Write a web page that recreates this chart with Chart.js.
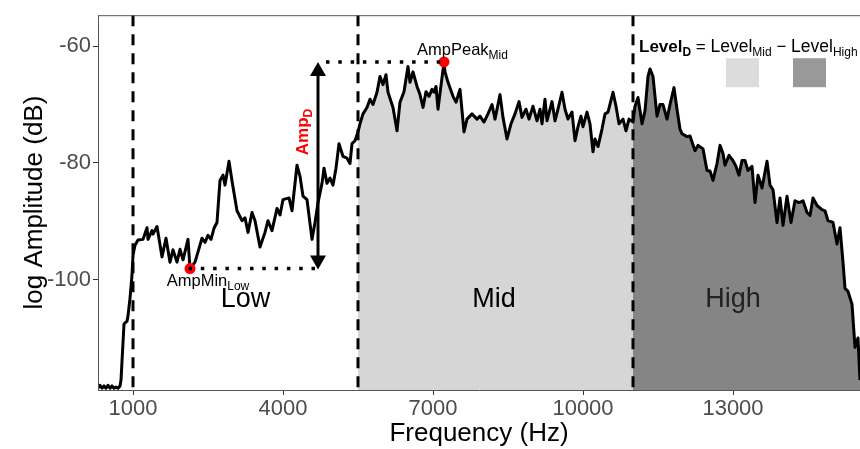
<!DOCTYPE html>
<html>
<head>
<meta charset="utf-8">
<style>
  html, body { margin: 0; padding: 0; background: #fff; }
  #wrap { width: 860px; height: 449px; }
</style>
<script src="https://cdn.jsdelivr.net/npm/chart.js@4.4.1/dist/chart.umd.min.js"></script>
</head>
<body>
<div id="wrap"><canvas id="spectrum" width="860" height="449"></canvas></div>
<script>
// Spectrum: frequency (Hz) and log amplitude (dB)
const freqHz = [
  300, 340, 380, 420, 460, 500, 540, 580, 620, 660, 700, 740, 760, 820, 880, 900, 940, 980,
  1000, 1040, 1100, 1200, 1280, 1300, 1380, 1400, 1480, 1580, 1660, 1740, 1800, 1880, 1940, 2000,
  2100, 2140, 2240, 2380, 2440, 2500, 2560, 2620, 2680, 2740, 2800, 2840, 2920, 2980, 3080, 3180,
  3240, 3300, 3380, 3440, 3540, 3640, 3700, 3780, 3880, 3940, 4000, 4120, 4180, 4280, 4340, 4400,
  4480, 4580, 4640, 4700, 4780, 4820, 4880, 4940, 5000, 5060, 5120, 5200, 5280, 5340, 5380, 5440,
  5500, 5540, 5600, 5680, 5740, 5800, 5880, 5940, 6000, 6060, 6100, 6200, 6280, 6340, 6420, 6500,
  6540, 6600, 6680, 6740, 6800, 6860, 6920, 6980, 7020, 7060, 7100, 7220, 7240, 7300, 7400, 7460,
  7540, 7620, 7680, 7780, 7880, 7940, 8020, 8100, 8180, 8240, 8340, 8400, 8480, 8560, 8640, 8720,
  8780, 8860, 8920, 9000, 9080, 9140, 9180, 9240, 9280, 9380, 9440, 9500, 9580, 9640, 9700, 9780,
  9840, 9900, 9960, 10000, 10080, 10140, 10200, 10240, 10300, 10380, 10440, 10500, 10600, 10660,
  10720, 10800, 10860, 10920, 11000, 11040, 11100, 11180, 11240, 11300, 11340, 11400, 11480, 11540,
  11600, 11680, 11740, 11820, 11880, 11940, 11980, 12080, 12140, 12240, 12300, 12400, 12480, 12540,
  12600, 12680, 12740, 12800, 12840, 12920, 13000, 13060, 13120, 13180, 13240, 13300, 13380, 13440,
  13500, 13580, 13680, 13740, 13800, 13880, 13940, 14000, 14080, 14160, 14240, 14320, 14400, 14480,
  14540, 14600, 14680, 14780, 14840, 14900, 15000, 15080, 15140, 15200, 15240, 15300, 15380, 15440,
  15500, 15540
];
const ampDb = [
  -118.6, -118.1, -118.6, -118.2, -118.6, -118.1, -118.6, -118.2, -118.6, -118.4, -118.6, -118.2, -117.2, -107.6, -107.1, -106.2, -103.2, -99.2,
  -95.8, -94.1, -93.2, -93.1, -91.1, -93.1, -91.6, -92.2, -90.9, -96.1, -92.9, -97.0, -94.9, -97.0, -94.8, -96.6,
  -93.1, -98.1, -97.0, -92.9, -93.6, -92.4, -93.1, -91.2, -90.2, -83.0, -82.1, -83.8, -79.7, -83.1, -88.2, -89.9,
  -89.4, -91.9, -88.5, -89.9, -94.4, -91.9, -89.9, -91.6, -87.8, -88.9, -86.3, -86.0, -88.2, -80.4, -82.3, -85.7,
  -86.3, -93.1, -90.2, -86.8, -83.5, -80.9, -83.5, -82.6, -83.8, -80.9, -76.7, -78.9, -79.2, -80.1, -76.7, -76.2,
  -74.7, -73.3, -71.6, -70.5, -69.1, -70.0, -67.9, -65.2, -66.6, -64.9, -67.9, -70.5, -74.5, -69.6, -67.8, -63.5,
  -66.2, -64.4, -66.9, -68.3, -70.5, -67.8, -68.6, -67.4, -67.9, -66.9, -70.8, -62.7, -64.4, -66.2, -68.6, -69.6,
  -67.4, -74.7, -72.5, -71.6, -72.5, -72.0, -73.0, -71.6, -70.0, -72.5, -68.3, -72.2, -75.9, -73.3, -71.6, -69.5,
  -72.2, -70.8, -72.5, -70.3, -72.8, -70.8, -73.3, -69.1, -72.8, -69.5, -72.8, -70.8, -67.9, -70.8, -72.5, -71.3,
  -76.2, -73.8, -72.0, -73.8, -71.3, -73.3, -78.1, -75.9, -77.2, -74.2, -71.6, -71.3, -67.9, -70.3,
  -73.3, -72.5, -74.5, -72.5, -73.0, -70.3, -68.8, -73.3, -71.1, -65.2, -63.9, -65.2, -72.0, -70.0,
  -70.0, -72.5, -70.0, -67.1, -70.8, -74.2, -75.0, -75.5, -75.4, -77.9, -77.0, -77.6, -81.3, -81.4,
  -83.0, -80.1, -77.0, -78.4, -80.4, -78.7, -79.6, -80.6, -82.1, -79.6, -79.6, -81.3, -80.6, -86.8,
  -82.1, -84.3, -79.7, -83.8, -84.6, -90.2, -86.0, -90.7, -85.7, -90.2, -86.5, -86.8, -86.5, -88.5,
  -89.0, -86.0, -87.3, -88.0, -88.2, -89.9, -90.2, -93.9, -91.1, -97.0, -101.5, -102.0, -104.2, -111.6,
  -110.0, -117.2
];

const xTicks = [1000, 4000, 7000, 10000, 13000];
const yTicks = [-100, -80, -60];
const bandEdges = [1000, 5500, 11000];
const bandNames = ['Low', 'Mid', 'High'];
const bandLabelHz = [3250, 8220, 13000];
const bandLabelDb = -103.4;
const ampMinPoint = [2140, -98.1];
const ampPeakPoint = [7220, -62.7];
const ampArrowHz = 4700;
const ampLabelDb = -74.7;

const FONT = '"Liberation Sans", Arial, Helvetica, sans-serif';
const MID_FILL = '#d6d6d6';
const HIGH_FILL = '#858585';

const points = freqHz.map((f, i) => ({ x: f, y: ampDb[i] }));
const midPoints = points.filter(p => p.x >= bandEdges[1] && p.x <= bandEdges[2]);
const highPoints = points.filter(p => p.x >= bandEdges[2]);

// text made of runs: [text, size, bold, subscript]
function runWidth(ctx, runs) {
  let w = 0;
  runs.forEach(r => {
    ctx.font = (r[2] ? 'bold ' : '') + r[1] + 'px ' + FONT;
    w += ctx.measureText(r[0]).width;
  });
  return w;
}

function drawRuns(ctx, runs, x, y, align) {
  let cx = align === 'center' ? x - runWidth(ctx, runs) / 2 : x;
  ctx.textBaseline = 'alphabetic';
  ctx.textAlign = 'left';
  runs.forEach(r => {
    ctx.font = (r[2] ? 'bold ' : '') + r[1] + 'px ' + FONT;
    ctx.fillText(r[0], cx, r[3] ? y + 4 : y);
    cx += ctx.measureText(r[0]).width;
  });
}

function arrowHead(ctx, x, tipY, dir) {
  ctx.beginPath();
  ctx.moveTo(x, tipY);
  ctx.lineTo(x - 8, tipY + dir * 14);
  ctx.lineTo(x + 8, tipY + dir * 14);
  ctx.closePath();
  ctx.fill();
}

const annotations = {
  id: 'annotations',
  afterDatasetDraw(chart, args) {
    // dashed band edges go above the fills but under the curve
    if (args.index !== 1) return;
    const { ctx, chartArea: a, scales: { x } } = chart;
    ctx.save();
    ctx.strokeStyle = '#000';
    ctx.lineWidth = 3;
    ctx.setLineDash([11, 8]);
    bandEdges.forEach(f => {
      const px = x.getPixelForValue(f);
      ctx.beginPath();
      ctx.moveTo(px, a.top);
      ctx.lineTo(px, a.bottom);
      ctx.stroke();
    });
    ctx.restore();
  },
  afterDraw(chart) {
    const { ctx, chartArea: a, scales: { x, y } } = chart;
    ctx.save();

    // top border of the panel
    ctx.strokeStyle = '#555';
    ctx.lineWidth = 1;
    ctx.beginPath();
    ctx.moveTo(a.left, a.top + 0.5);
    ctx.lineTo(a.right, a.top + 0.5);
    ctx.stroke();

    const minX = x.getPixelForValue(ampMinPoint[0]);
    const minY = y.getPixelForValue(ampMinPoint[1]);
    const peakX = x.getPixelForValue(ampPeakPoint[0]);
    const peakY = y.getPixelForValue(ampPeakPoint[1]);
    const arrX = x.getPixelForValue(ampArrowHz);

    // red points
    ctx.fillStyle = '#ff0000';
    [[minX, minY], [peakX, peakY]].forEach(p => {
      ctx.beginPath();
      ctx.arc(p[0], p[1], 5.5, 0, Math.PI * 2);
      ctx.fill();
    });

    // dotted guides
    ctx.strokeStyle = '#000';
    ctx.lineWidth = 3.5;
    ctx.setLineDash([3.5, 8.8]);
    ctx.beginPath();
    ctx.moveTo(minX - 1.5, minY);
    ctx.lineTo(arrX, minY);
    ctx.moveTo(arrX + 8, peakY);
    ctx.lineTo(peakX + 2, peakY);
    ctx.stroke();
    ctx.setLineDash([]);

    // double arrow
    ctx.lineWidth = 3;
    ctx.beginPath();
    ctx.moveTo(arrX, peakY + 10);
    ctx.lineTo(arrX, minY - 10);
    ctx.stroke();
    ctx.fillStyle = '#000';
    arrowHead(ctx, arrX, peakY, 1);
    arrowHead(ctx, arrX, minY + 1, -1);

    // Amp_D label
    ctx.save();
    ctx.translate(arrX - 10, y.getPixelForValue(ampLabelDb));
    ctx.rotate(-Math.PI / 2);
    ctx.fillStyle = '#ff0000';
    drawRuns(ctx, [['Amp', 17, true], ['D', 12, true, true]], 0, 0, 'center');
    ctx.restore();

    ctx.fillStyle = '#000';
    drawRuns(ctx, [['AmpMin', 16.5], ['Low', 12, false, true]], minX + 18, minY + 17, 'center');
    drawRuns(ctx, [['AmpPeak', 16.5], ['Mid', 12, false, true]], peakX + 18.5, peakY - 7, 'center');

    // band names
    ctx.textAlign = 'center';
    ctx.textBaseline = 'middle';
    ctx.font = '27px ' + FONT;
    bandNames.forEach((n, i) => {
      ctx.fillStyle = i === 2 ? '#222' : '#000';
      ctx.fillText(n, x.getPixelForValue(bandLabelHz[i]), y.getPixelForValue(bandLabelDb));
    });

    // legend
    const lx = a.right - 221, ly = a.top + 37;
    ctx.fillStyle = '#000';
    drawRuns(ctx, [
      ['Level', 17, true], ['D', 12, true, true], [' = ', 17], ['Level', 17.5],
      ['Mid', 12, false, true], [' \u2212 ', 17], ['Level', 17.5], ['High', 12, false, true]
    ], lx, ly, 'left');
    ctx.fillStyle = '#dcdcdc';
    ctx.fillRect(lx + 87, ly + 6, 33, 29);
    ctx.fillStyle = '#999999';
    ctx.fillRect(lx + 154, ly + 6, 33, 29);

    ctx.restore();
  }
};

new Chart(document.getElementById('spectrum'), {
  type: 'line',
  data: {
    datasets: [
      {
        data: points,
        borderColor: '#000',
        borderWidth: 3,
        borderJoinStyle: 'round',
        pointRadius: 0,
        tension: 0,
        fill: false
      },
      {
        data: midPoints,
        borderWidth: 0,
        borderColor: 'rgba(0,0,0,0)',
        backgroundColor: MID_FILL,
        pointRadius: 0,
        tension: 0,
        fill: 'start'
      },
      {
        data: highPoints,
        borderWidth: 0,
        borderColor: 'rgba(0,0,0,0)',
        backgroundColor: HIGH_FILL,
        pointRadius: 0,
        tension: 0,
        fill: 'start'
      }
    ]
  },
  options: {
    responsive: false,
    animation: false,
    devicePixelRatio: 1,
    events: [],
    layout: { padding: { top: 10, right: 0, left: 0, bottom: 0 } },
    plugins: { legend: { display: false }, tooltip: { enabled: false } },
    scales: {
      x: {
        type: 'linear',
        min: 300,
        max: 15540,
        afterBuildTicks: s => { s.ticks = xTicks.map(v => ({ value: v })); },
        afterFit: s => { s.height = 59; },
        grid: { drawOnChartArea: false, drawTicks: true, tickLength: 5, color: '#333' },
        border: { display: true, color: '#555', width: 1, z: 1 },
        ticks: {
          color: '#4d4d4d',
          padding: 1,
          maxRotation: 0,
          font: { family: FONT, size: 22 },
          callback: v => String(v)
        },
        title: {
          display: true,
          text: 'Frequency (Hz)',
          color: '#000',
          font: { family: FONT, size: 26 },
          padding: { top: 0, bottom: 0 }
        }
      },
      y: {
        type: 'linear',
        min: -118.9,
        max: -54.7,
        afterBuildTicks: s => { s.ticks = yTicks.map(v => ({ value: v })); },
        afterFit: s => { s.width = 98; },
        grid: { drawOnChartArea: false, drawTicks: true, tickLength: 5, color: '#333' },
        border: { display: true, color: '#555', width: 1, z: 1 },
        ticks: {
          color: '#4d4d4d',
          padding: 2,
          font: { family: FONT, size: 22 },
          callback: v => String(v)
        },
        title: {
          display: true,
          text: 'log Amplitude (dB)',
          color: '#000',
          font: { family: FONT, size: 26 },
          padding: { top: 19, bottom: 0 }
        }
      }
    }
  },
  plugins: [annotations]
});
</script>
</body>
</html>
